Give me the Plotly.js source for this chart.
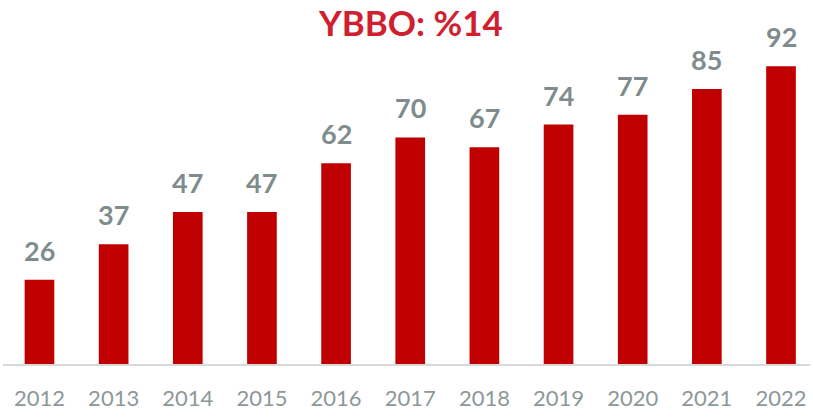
<!DOCTYPE html>
<html><head><meta charset="utf-8">
<script src="https://cdn.plot.ly/plotly-3.0.1.min.js"></script>
<style>html,body{margin:0;padding:0;background:#fff}#chart{width:813px;height:420px}</style>
</head><body><div id="chart"></div>
<script>
const years = ["2012","2013","2014","2015","2016","2017","2018","2019","2020","2021","2022"];
const values = [26, 37, 47, 47, 62, 70, 67, 74, 77, 85, 92];
const titleText = "YBBO: %14";

const barColor = "#C00000";
const labelColor = "#7F8C8D";
const tickColor = "#8C9898";

const trace = {
  type: "bar",
  x: years,
  y: values,
  width: 0.4,
  marker: {color: barColor},
  hoverinfo: "skip"
};

const annotations = values.map((v, i) => ({
  x: i, y: v, xref: "x", yref: "y",
  text: "<b>" + v + "</b>", showarrow: false,
  yanchor: "bottom", yshift: 11,
  font: {family: "Lato, sans-serif", size: 27, color: labelColor}
}));

annotations.push({
  xref: "paper", yref: "paper", x: 0.505, y: 1.0898, xanchor: "center", yanchor: "top",
  text: "<b>" + titleText + "</b>", showarrow: false, borderpad: 0,
  font: {family: "Lato, sans-serif", size: 35, color: "#D0202F"}
});

const layout = {
  width: 813, height: 420,
  margin: {l: 3, r: 3, t: 30, b: 56},
  paper_bgcolor: "#fff", plot_bgcolor: "#fff",
  xaxis: {type: "category", range: [-0.492, 10.391], showline: true, linecolor: "#D9D9D9", linewidth: 1.5,
          showgrid: false, zeroline: false, ticks: "", ticklabelstandoff: 14,
          tickfont: {family: "Lato, sans-serif", size: 22, color: tickColor}},
  yaxis: {range: [0, 103.2], visible: false, showgrid: false, zeroline: false},
  annotations: annotations,
  showlegend: false
};

Plotly.newPlot("chart", [trace], layout, {staticPlot: true, displayModeBar: false});
</script></body></html>
